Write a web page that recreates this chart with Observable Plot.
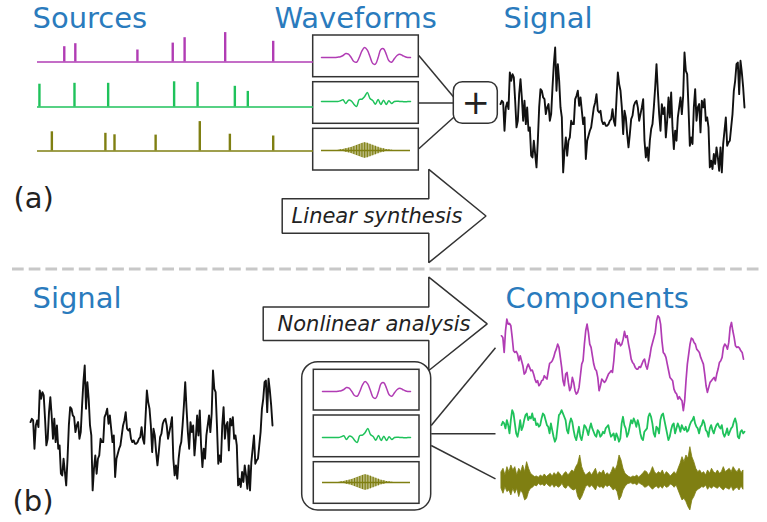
<!DOCTYPE html>
<html>
<head>
<meta charset="utf-8">
<script src="https://cdn.jsdelivr.net/npm/d3@7"></script>
<script src="https://cdn.jsdelivr.net/npm/@observablehq/plot@0.6"></script>
<style>
  html, body { margin: 0; padding: 0; background: white; }
  #fig { position: relative; width: 767px; height: 522px; overflow: hidden; font-family: "DejaVu Sans", sans-serif; }
</style>
</head>
<body>
<div id="fig"></div>
<script>
// ---------- data ----------
// spike trains (time in ms, amplitude)
const purpleSpikeTimes = [97, 137, 362, 490, 533, 680, 854];
const purpleSpikeAmps  = [0.51, 0.61, 0.40, 0.63, 0.81, 0.98, 0.69];
const greenSpikeTimes  = [7, 134, 256, 495, 580, 715, 762];
const greenSpikeAmps   = [0.76, 0.79, 0.79, 0.84, 0.82, 0.69, 0.52];
const oliveSpikeTimes  = [52, 246, 279, 428, 588, 697, 854];
const oliveSpikeAmps   = [0.64, 0.59, 0.54, 0.53, 0.98, 0.56, 0.50];

// kernels (one per source)
const purpleWaveform = [0,0,0,0,0,0,0.03,0.07,0.2,0.4,0.33,0,-0.4,-0.47,0,0.67,1.0,0.73,0.07,-0.6,-0.67,0,0.8,0.87,0.33,-0.33,-0.47,-0.13,0.2,0.33,0.2,0.07,0,0];
const greenWaveform  = [0,0,0,0,0,0,0,0.07,0.17,-0.2,0.13,0.07,-0.27,-0.5,0.2,0.23,0.5,0.9,0.3,0.1,-0.27,0.2,-0.3,0.13,-0.3,0.07,-0.2,0,0.03,0,0,-0.03,0,0];
const oliveWaveformEnvelope = [0,0,0,0,0,0,0,0.07,0.1,0.17,0.23,0.3,0.4,0.5,0.6,0.7,0.77,0.73,0.63,0.53,0.43,0.33,0.23,0.17,0.1,0.07,0.03,0,0,0,0,0,0,0];

// mixed signal
const signal = [
  0.35,0.45,0.40,-0.45,0.25,0.40,0.20,1.30,1.05,1.25,1.15,0.45,-0.35,-0.15,0.65,1.10,0.55,-0.15,0.45,-0.25,
  0.25,-0.45,-0.35,-1.20,-1.25,-0.75,-1.15,-1.55,-0.75,0.25,0.80,0.75,0.55,0.50,0.05,0.25,0.35,-0.15,0.05,0.85,
  1.55,2.05,0.75,1.55,1.05,0.25,-0.05,-1.70,-1.05,-0.65,-1.20,-0.75,-0.65,-0.15,-0.25,-0.25,0.50,0.60,0.75,0.30,
  0.55,0.15,-0.25,-0.05,-1.30,-0.75,-0.60,-0.45,-0.35,-0.05,0.25,0.40,0.65,0.15,0.10,0.15,-0.15,-0.25,-0.20,-0.30,
  -0.30,-0.25,-0.15,-0.10,0.20,-0.15,-0.30,0.50,1.30,0.95,0.75,0.25,-0.55,
  0.15,-0.05,-0.55,-0.95,-0.55,-0.10,0.00,0.30,0.40,0.45,0.25,-0.15,0.05,0.25,0.50,-0.75,-1.25,-0.95,-1.35,-0.75,
  -0.40,-0.25,0.25,0.85,1.55,0.75,0.05,-0.45,0.35,0.05,0.25,-0.65,-0.15,0.55,-0.05,0.70,-0.35,-1.00,-0.45,-0.75,
  -0.05,0.25,0.55,0.05,0.60,1.90,1.35,1.25,0.25,-0.90,-0.65,-0.85,0.25,0.80,-0.15,0.25,0.35,-0.50,0.45,0.25,
  0.50,-0.15,-0.05,-0.35,-1.55,-1.35,-1.60,-1.15,-1.45,-0.95,-1.25,-1.65,-0.95,-1.70,-0.85,-0.45,-0.05,-0.90,-0.80,-0.75,
  -0.35,0.05,0.75,1.05,1.55,1.60,0.65,1.65,1.30,0.85,0.25
];

// separated components
const purpleComponent = [
  0.75,0.70,0.25,0.90,1.25,1.10,1.12,1.05,0.70,0.30,0.25,0.28,0.20,0.00,0.15,0.00,-0.15,-0.40,-0.35,-0.20,
  -0.10,-0.20,-0.30,-0.28,-0.40,-0.55,-0.65,-0.60,-0.75,-0.70,-0.60,-0.58,-0.45,-0.50,-0.55,-0.30,-0.08,-0.05,0.00,0.10,
  0.25,0.35,0.50,0.40,0.10,-0.20,-0.60,-0.75,-0.40,-0.35,-0.65,-0.90,-0.80,-0.50,-0.65,-0.90,-1.00,-0.95,-0.80,-0.45,
  -0.10,0.00,0.50,0.90,1.10,0.85,0.50,0.40,0.15,-0.10,-0.25,-0.30,-0.50,-0.90,-0.75,-0.55,-0.60,-0.65,-0.60,-0.50,
  -0.40,-0.35,-0.30,-0.35,0.00,0.50,0.65,0.50,0.55,0.45,0.50,0.65,0.88,0.70,0.75,0.50,0.30,0.05,-0.05,-0.10,
  -0.20,-0.25,-0.25,-0.18,-0.20,-0.10,0.00,0.05,-0.15,-0.25,-0.05,0.15,0.40,0.55,0.70,0.85,1.20,1.35,1.30,1.10,
  0.60,0.25,0.20,0.10,-0.10,-0.30,-0.50,-0.55,-0.60,-0.85,-0.95,-1.00,-1.15,-1.08,-1.15,-1.20,-1.50,-1.20,-0.60,-0.10,
  0.20,0.50,0.68,0.65,0.55,0.50,0.35,0.30,0.25,0.10,0.00,-0.10,-0.40,-0.75,-0.95,-0.80,-0.65,-0.60,-0.55,-0.50,
  -0.60,-0.40,-0.25,-0.05,0.00,0.10,0.40,0.50,0.45,0.35,0.55,1.00,1.15,0.90,0.70,0.45,0.40,0.42,0.38,0.30,
  0.25,0.05
];
const greenComponent = [
  0.05,0.15,0.10,-0.05,0.20,0.05,-0.20,0.20,0.50,0.40,0.10,-0.20,-0.30,-0.10,0.20,-0.10,0.00,0.20,0.35,0.40,
  0.20,0.30,0.25,0.40,0.20,0.25,0.05,0.10,0.00,0.05,0.25,0.40,0.35,0.20,0.05,0.00,-0.20,0.10,-0.10,-0.30,
  -0.45,-0.35,0.00,0.35,0.40,0.50,0.40,0.30,0.20,-0.10,-0.20,0.10,0.25,0.15,-0.10,-0.30,-0.40,-0.20,0.00,-0.30,
  -0.40,-0.20,0.05,0.00,-0.10,-0.25,-0.05,0.10,-0.05,-0.15,-0.25,-0.30,-0.10,-0.15,-0.30,-0.25,-0.15,-0.20,-0.05,0.00,
  0.05,-0.15,-0.30,-0.25,-0.20,-0.40,-0.20,-0.30,-0.45,-0.35,0.10,0.30,0.05,-0.05,-0.30,-0.20,0.00,0.20,0.10,0.25,
  0.15,0.00,0.20,0.05,-0.20,-0.35,-0.40,-0.15,-0.10,-0.05,0.30,0.40,0.30,0.10,-0.20,-0.30,0.00,-0.05,-0.20,0.20,
  0.35,0.40,0.20,0.00,-0.20,-0.40,-0.30,-0.10,0.05,0.10,-0.20,-0.05,0.10,0.00,-0.15,0.05,-0.05,-0.10,0.00,-0.15,
  -0.10,0.05,0.15,0.20,0.30,0.10,0.00,-0.05,-0.20,0.00,0.05,0.20,0.10,-0.10,-0.15,-0.30,-0.05,0.05,-0.10,-0.20,
  -0.05,0.05,0.10,0.00,-0.05,0.05,-0.20,-0.30,-0.20,-0.05,-0.25,-0.15,-0.05,0.00,0.15,0.25,0.10,-0.30,-0.35,-0.15,
  -0.10,-0.20,-0.15
];
// olive component: upper / lower envelope of the fast oscillation
const oliveComponentUpper = [
  0.25,0.35,0.15,0.40,0.25,0.45,0.30,0.40,0.15,0.35,0.25,0.45,0.25,0.55,0.35,0.20,0.15,0.10,0.12,0.08,
  0.15,0.10,0.18,0.10,0.15,0.20,0.12,0.22,0.15,0.25,0.18,0.10,0.20,0.25,0.15,0.22,0.30,0.25,0.40,0.50,
  0.75,0.40,0.25,0.15,0.20,0.25,0.15,0.25,0.35,0.15,0.25,0.20,0.30,0.15,0.22,0.15,0.25,0.40,0.30,0.45,
  0.75,0.60,0.35,0.20,0.15,0.10,0.08,0.12,0.10,0.15,0.08,0.15,0.20,0.28,0.25,0.15,0.25,0.40,0.25,0.18,
  0.25,0.20,0.30,0.15,0.25,0.20,0.12,0.18,0.25,0.18,0.35,0.50,0.70,0.55,0.75,0.65,1.00,0.70,0.55,0.35,
  0.25,0.30,0.20,0.25,0.15,0.30,0.20,0.35,0.25,0.20,0.30,0.20,0.25,0.40,0.25,0.30,0.35,0.25,0.40,0.30,
  0.25,0.35,0.22,0.30
];
const oliveComponentLower = [
  -0.25,-0.40,-0.20,-0.35,-0.30,-0.45,-0.25,-0.40,-0.25,-0.50,-0.30,-0.40,-0.60,-0.55,-0.35,-0.25,-0.22,-0.15,-0.18,-0.10,
  -0.15,-0.12,-0.18,-0.10,-0.16,-0.20,-0.12,-0.22,-0.15,-0.22,-0.18,-0.10,-0.22,-0.25,-0.15,-0.22,-0.28,-0.30,-0.25,-0.50,
  -0.60,-0.50,-0.35,-0.20,-0.15,-0.22,-0.15,-0.22,-0.30,-0.15,-0.22,-0.20,-0.25,-0.15,-0.20,-0.15,-0.22,-0.30,-0.25,-0.35,
  -0.60,-0.50,-0.30,-0.20,-0.12,-0.10,-0.08,-0.12,-0.10,-0.15,-0.08,-0.12,-0.15,-0.22,-0.20,-0.15,-0.22,-0.28,-0.22,-0.18,
  -0.25,-0.18,-0.25,-0.15,-0.22,-0.20,-0.12,-0.15,-0.22,-0.15,-0.30,-0.45,-0.60,-0.55,-0.65,-0.80,-0.90,-0.60,-0.50,-0.35,
  -0.28,-0.25,-0.20,-0.22,-0.15,-0.28,-0.20,-0.25,-0.18,-0.22,-0.25,-0.18,-0.25,-0.30,-0.22,-0.25,-0.28,-0.18,-0.32,-0.25,
  -0.22,-0.30,-0.18,-0.28
];

// text
const headings = ["Sources", "Waveforms", "Signal", "Signal", "Components"];
const panelTags = ["(a)", "(b)"];
const arrowLabels = ["Linear synthesis", "Nonlinear analysis"];

// ---------- style ----------
const PURPLE = "#b13cb4";
const GREEN = "#1fc25b";
const OLIVE = "#7f7f12";
const BLUE = "#2a7bbd";
const INK = "#222";
const FONT = "DejaVu Sans";

// ---------- layout (pixel frame) ----------
const W = 767, H = 522;
const headingAt = [[32, 27], [274, 27], [503, 27], [32, 307], [505, 307]];
const tagAt = [[13, 207], [12, 510]];
const labelAt = [[376.5, 222], [373.5, 330]];
const kernelBoxesTop = [
  {x1: 312.7, x2: 418.3, y1: 35, y2: 76.7},
  {x1: 312.7, x2: 418.3, y1: 81.7, y2: 123.3},
  {x1: 312.7, x2: 418.3, y1: 128.3, y2: 170}
];
const kernelBoxesBottom = [
  {x1: 313.3, x2: 419, y1: 369.3, y2: 410},
  {x1: 313.3, x2: 419, y1: 415, y2: 456.7},
  {x1: 313.3, x2: 419, y1: 461.7, y2: 503.3}
];
const plusBox = [{x1: 453.3, x2: 497.3, y1: 81.7, y2: 123.3}];
const kernelBank = [{x1: 301.7, x2: 430.7, y1: 361.7, y2: 510}];
const wiresTop = [
  {x1: 418.3, y1: 55, x2: 453.3, y2: 96.7},
  {x1: 418.3, y1: 102.5, x2: 453.3, y2: 102.5},
  {x1: 418.3, y1: 148.3, x2: 453.3, y2: 116.7}
];
const wiresBottom = [
  {x1: 430.7, y1: 425, x2: 495, y2: 347.3},
  {x1: 430.7, y1: 433.3, x2: 495, y2: 433.3},
  {x1: 430.7, y1: 445, x2: 495, y2: 478.3}
];
function blockArrow(xs, xh, xt, cy, shaftHalf, headHalf) {
  return [[xs, cy - shaftHalf], [xh, cy - shaftHalf], [xh, cy - headHalf], [xt, cy],
          [xh, cy + headHalf], [xh, cy + shaftHalf], [xs, cy + shaftHalf], [xs, cy - shaftHalf]];
}
const synthArrow = blockArrow(281.7, 428.3, 485.5, 215.5, 17.2, 46.7);
const analysisArrow = blockArrow(262.7, 428.3, 486.7, 323.3, 16.7, 46.7);

const fig = document.getElementById("fig");
const BOX = {fill: "white", stroke: "#333", strokeWidth: 1.5};

// frame with boxes, arrows, wires and text
const frame = Plot.plot({
  width: W, height: H, margin: 0,
  x: {domain: [0, W], axis: null},
  y: {domain: [0, H], reverse: true, axis: null},
  style: `position:absolute;left:0;top:0;background:white;overflow:visible;font-family:'${FONT}'`,
  marks: [
    Plot.ruleY([268.5], {x1: 12, x2: 762, stroke: "#c8c8c8", strokeWidth: 3, strokeDasharray: "11.7,5"}),
    Plot.link(wiresTop, {x1: "x1", y1: "y1", x2: "x2", y2: "y2", stroke: "#333", strokeWidth: 1.5}),
    Plot.link(wiresBottom, {x1: "x1", y1: "y1", x2: "x2", y2: "y2", stroke: "#333", strokeWidth: 1.5}),
    Plot.rect(kernelBoxesTop, {x1: "x1", x2: "x2", y1: "y1", y2: "y2", ...BOX}),
    Plot.rect(plusBox, {x1: "x1", x2: "x2", y1: "y1", y2: "y2", rx: 9, ...BOX}),
    Plot.text(["+"], {x: 475.3, y: 102.5, fontSize: 34, fill: INK, fontFamily: FONT}),
    Plot.line(synthArrow, {x: d => d[0], y: d => d[1], ...BOX, strokeLinejoin: "miter"}),
    Plot.line(analysisArrow, {x: d => d[0], y: d => d[1], ...BOX, strokeLinejoin: "miter"}),
    Plot.rect(kernelBank, {x1: "x1", x2: "x2", y1: "y1", y2: "y2", rx: 16, ...BOX}),
    Plot.rect(kernelBoxesBottom, {x1: "x1", x2: "x2", y1: "y1", y2: "y2", ...BOX}),
    Plot.text(headings, {x: (d, i) => headingAt[i][0], y: (d, i) => headingAt[i][1], text: d => d,
      textAnchor: "start", lineAnchor: "bottom", fontSize: 29, fill: BLUE, fontFamily: FONT}),
    Plot.text(panelTags, {x: (d, i) => tagAt[i][0], y: (d, i) => tagAt[i][1], text: d => d,
      textAnchor: "start", lineAnchor: "bottom", fontSize: 29, fill: INK, fontFamily: FONT}),
    Plot.text(arrowLabels, {x: (d, i) => labelAt[i][0], y: (d, i) => labelAt[i][1], text: d => d,
      textAnchor: "middle", lineAnchor: "bottom", fontSize: 21, fontStyle: "italic", fill: INK, fontFamily: FONT})
  ]
});
fig.appendChild(frame);

// a small plot placed over the frame: x spans [left, right], value 0 sits at `zero`, k px per unit
function panel({left, right, zero, k, yDomain, xDomain, marks}) {
  const [lo, hi] = yDomain;
  const top = zero - hi * k;
  const height = (hi - lo) * k;
  const svg = Plot.plot({
    width: right - left, height, margin: 0,
    x: {domain: xDomain, axis: null},
    y: {domain: yDomain, axis: null},
    style: `position:absolute;left:${left}px;top:${top}px;background:transparent;overflow:visible;max-width:none`,
    marks
  });
  fig.appendChild(svg);
}

// spike trains
function spikes(times, amps, color, zero) {
  panel({
    left: 37, right: 313, zero, k: 30, yDomain: [-0.1, 1.05], xDomain: [0, 1000],
    marks: [
      Plot.ruleY([0], {stroke: color, strokeWidth: 1.5}),
      Plot.ruleX(times, {x: d => d, y1: 0, y2: (d, i) => amps[i], stroke: color, strokeWidth: 2.4})
    ]
  });
}
spikes(purpleSpikeTimes, purpleSpikeAmps, PURPLE, 61);
spikes(greenSpikeTimes, greenSpikeAmps, GREEN, 106);
spikes(oliveSpikeTimes, oliveSpikeAmps, OLIVE, 150);

// kernels inside boxes
function kernel(values, color, zero, left) {
  panel({
    left, right: 410, zero, k: 10, yDomain: [-1.5, 1.5], xDomain: [0, values.length - 1],
    marks: [Plot.line(values, {x: (d, i) => i, y: d => d, stroke: color, strokeWidth: 1.5, curve: "catmull-rom"})]
  });
}
// a burst kernel: its envelope, hatched with one stroke per sample
function burstKernel(env, color, zero, left) {
  panel({
    left, right: 410, zero, k: 10, yDomain: [-1.5, 1.5], xDomain: [0, env.length - 1],
    marks: [
      Plot.ruleY([0], {stroke: color, strokeWidth: 1.3}),
      Plot.areaY(env, {x: (d, i) => i, y1: d => -d, y2: d => d, fill: color, fillOpacity: 0.55, curve: "catmull-rom"}),
      Plot.ruleX(env, {x: (d, i) => i, y1: d => -d, y2: d => d, stroke: color, strokeWidth: 1.1})
    ]
  });
}
kernel(purpleWaveform, PURPLE, 56.5, 321);
kernel(greenWaveform, GREEN, 100.5, 321);
burstKernel(oliveWaveformEnvelope, OLIVE, 149.5, 321);
kernel(purpleWaveform, PURPLE, 390.7, 322);
kernel(greenWaveform, GREEN, 437.3, 322);
burstKernel(oliveWaveformEnvelope, OLIVE, 481.7, 322);

// mixed signal, synthesised (top) and observed (bottom)
function trace(values, color, left, right, zero, width) {
  panel({
    left, right, zero, k: 33.3, yDomain: [-2, 2.2], xDomain: [0, values.length - 1],
    marks: [Plot.line(values, {x: (d, i) => i, y: d => d, stroke: color, strokeWidth: width})]
  });
}
trace(signal, "#111", 500, 744, 115, 1.9);
trace(signal, "#111", 30, 272, 433.3, 1.9);

// recovered components
trace(purpleComponent, PURPLE, 501, 743, 360, 1.7);
trace(greenComponent, GREEN, 501, 744, 426.7, 1.8);
panel({
  left: 501, right: 743, zero: 480, k: 33.3, yDomain: [-1.2, 1.2], xDomain: [0, oliveComponentUpper.length - 1],
  marks: [
    Plot.areaY(oliveComponentUpper, {x: (d, i) => i, y1: (d, i) => oliveComponentLower[i], y2: d => d,
      fill: OLIVE, stroke: OLIVE, strokeWidth: 0.8})
  ]
});
</script>
</body>
</html>
